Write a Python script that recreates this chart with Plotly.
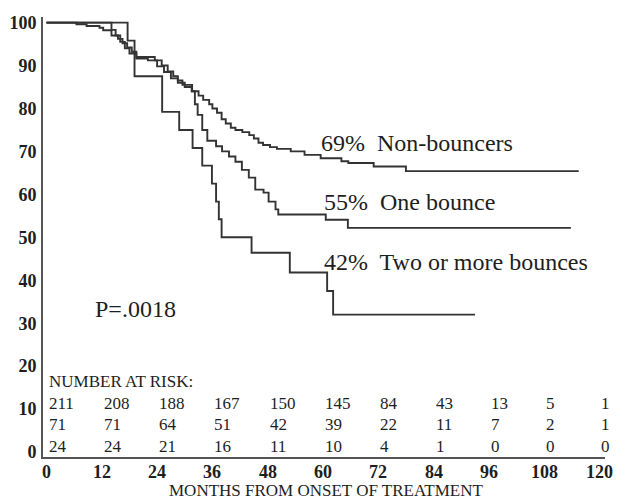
import plotly.graph_objects as go

# ---- data ----
non_m = [0, 6.5, 8.7, 11.5, 12.3, 14.1, 15.5, 16.5, 17.5, 18.5, 19.5, 23.5, 25.0, 26.3, 27.5,
         28.5, 29.5, 31.6, 33.0, 34.0, 35.3, 36.0, 37.0, 38.0, 38.9, 40.0, 41.0, 42.5, 44.0,
         45.0, 46.0, 47.0, 48.5, 50.0, 53.0, 56.0, 59.5, 64.0, 65.5, 71.0, 78.0, 115.5]
non_s = [100, 99.6, 99.2, 98.8, 98.2, 97.0, 96.2, 95.2, 94.2, 93.2, 92.0, 91.2, 90.0, 88.6, 87.5,
         86.5, 85.5, 84.0, 83.0, 82.0, 81.0, 80.0, 79.0, 77.5, 76.5, 75.5, 75.0, 74.5, 73.8,
         73.0, 72.0, 71.5, 71.0, 70.6, 70.0, 69.2, 68.4, 67.7, 67.3, 66.5, 65.4, 65.4]

one_m = [0, 14.1, 15.0, 16.0, 17.0, 18.0, 19.5, 22.0, 24.0, 25.5, 27.0, 28.5, 30.0, 31.5, 32.2,
         32.8, 33.8, 34.9, 36.8, 38.1, 39.6, 41.0, 42.4, 43.9, 45.3, 47.1, 48.2, 49.7, 50.3,
         60.6, 65.4, 113.8]
one_s = [100, 98.3, 97.0, 95.5, 94.0, 92.8, 91.6, 91.2, 89.8, 88.5, 87.0, 86.0, 85.0, 84.0, 81.0,
         78.5, 75.0, 72.5, 71.2, 70.0, 68.8, 67.6, 65.7, 63.9, 61.1, 60.4, 58.3, 56.5, 55.3,
         54.1, 52.2, 52.2]

two_m = [0, 17.6, 19.1, 25.1, 28.8, 31.7, 33.8, 35.9, 36.8, 37.4, 38.0, 44.5, 52.8, 60.9, 62.2, 93.0]
two_s = [100, 95.8, 87.5, 79.2, 75.0, 70.8, 66.7, 62.5, 58.3, 54.2, 50.0, 46.4, 41.8, 37.5, 32.0, 32.0]

curve_labels = ["69%  Non-bouncers", "55%  One bounce", "42%  Two or more bounces"]
label_x = [59.1, 59.7, 59.8]
label_y = [71.9, 58.3, 44.2]

p_text = "P=.0018"

risk_months = [0, 12, 24, 36, 48, 60, 72, 84, 96, 108, 120]
risk_non = [211, 208, 188, 167, 150, 145, 84, 43, 13, 5, 1]
risk_one = [71, 71, 64, 51, 42, 39, 22, 11, 7, 2, 1]
risk_two = [24, 24, 21, 16, 11, 10, 4, 1, 0, 0, 0]
risk_rows_y = [11.2, 6.3, 1.2]
risk_title = "NUMBER AT RISK:"

x_ticks = [0, 12, 24, 36, 48, 60, 72, 84, 96, 108, 120]
y_ticks = [0, 10, 20, 30, 40, 50, 60, 70, 80, 90, 100]
x_title = "MONTHS FROM ONSET OF TREATMENT"

# ---- figure ----
SERIF = "Liberation Serif"
LINE = "#333333"
TXT = "#1e1e1e"

fig = go.Figure()
for mx, sy in [(non_m, non_s), (one_m, one_s), (two_m, two_s)]:
    fig.add_trace(go.Scatter(x=mx, y=sy, mode="lines", line=dict(shape="hv", color=LINE, width=1.9),
                             showlegend=False, hoverinfo="skip"))

ann = []
for t, x, y in zip(curve_labels, label_x, label_y):
    ann.append(dict(x=x, y=y, text=t, xanchor="left", yanchor="middle", showarrow=False,
                    font=dict(family=SERIF, size=24, color=TXT)))
ann.append(dict(x=10.1, y=33.3, text=p_text, xanchor="left", yanchor="middle", showarrow=False,
                font=dict(family=SERIF, size=24, color=TXT)))
ann.append(dict(x=0, y=16.4, text=risk_title, xanchor="left", yanchor="middle", showarrow=False,
                font=dict(family=SERIF, size=17, color=TXT)))
for row, ry in zip([risk_non, risk_one, risk_two], risk_rows_y):
    for m, v in zip(risk_months, row):
        ann.append(dict(x=m, y=ry, text=str(v), xanchor="left", yanchor="middle", showarrow=False,
                        font=dict(family=SERIF, size=17, color=TXT)))
# x tick labels placed just below the axis line
for m in x_ticks:
    ann.append(dict(x=m, y=-0.035, xref="x", yref="paper", text=str(m), xanchor="center",
                    yanchor="middle", showarrow=False,
                    font=dict(family=SERIF, size=18, color=TXT, weight="bold")))
ann.append(dict(x=60.8, y=-0.076, xref="x", yref="paper", text=x_title, xanchor="center",
                yanchor="middle", showarrow=False, font=dict(family=SERIF, size=17, color=TXT)))

fig.update_layout(
    width=617, height=500,
    margin=dict(l=43, r=12, t=17, b=43, autoexpand=False),
    paper_bgcolor="white", plot_bgcolor="white",
    annotations=ann,
    xaxis=dict(range=[-0.76, 121.2], tickvals=x_ticks, showticklabels=False, automargin=False,
               showgrid=False, zeroline=False, showline=True, linecolor="#555555", linewidth=2,
               ticks=""),
    yaxis=dict(range=[-1.16, 101.3], tickvals=y_ticks, ticktext=[str(v) for v in y_ticks],
               automargin=False,
               showgrid=False, zeroline=False, showline=True, linecolor="#555555", linewidth=2,
               ticks="outside", ticklen=1, tickcolor="rgba(0,0,0,0)",
               tickfont=dict(family=SERIF, size=18, color=TXT, weight="bold")),
)

# remove the default page margin so the 617x500 figure fills the window exactly
fig.write_html("out.html", config={"displayModeBar": False},
               post_script="document.body.style.margin='0';document.body.style.overflow='hidden';")
